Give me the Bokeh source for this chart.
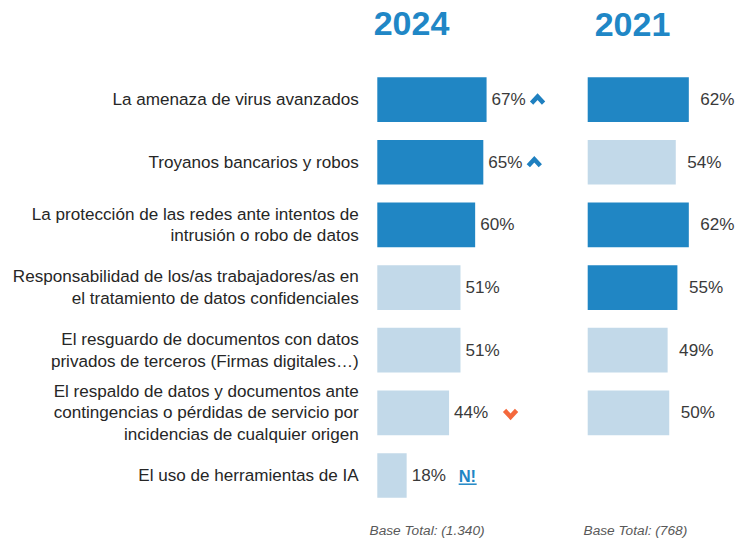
from bokeh.plotting import figure
from bokeh.models import Range1d, ColumnDataSource, Label
from bokeh.embed import file_html
from bokeh.resources import INLINE
from bokeh.core.properties import value

# ---------------- data ----------------
categories = [
    "La amenaza de virus avanzados",
    "Troyanos bancarios y robos",
    "La protección de las redes ante intentos de\nintrusión o robo de datos",
    "Responsabilidad de los/as trabajadores/as en\nel tratamiento de datos confidenciales",
    "El resguardo de documentos con datos\nprivados de terceros (Firmas digitales…)",
    "El respaldo de datos y documentos ante\ncontingencias o pérdidas de servicio por\nincidencias de cualquier origen",
    "El uso de herramientas de IA",
]
values_2024 = [67, 65, 60, 51, 51, 44, 18]
values_2021 = [62, 54, 62, 55, 49, 50, None]
change_2024 = ["up", "up", "", "", "", "down", "new"]
years = ["2024", "2021"]
base_totals = ["Base Total: (1.340)", "Base Total: (768)"]

# ---------------- layout / style ----------------
W, H = 736, 541
PX = 1.631          # pixels per percentage point
X0 = 376.8          # frame px of the 2024 zero line
GAP21 = 210.4       # px between the 2024 and 2021 zero lines
ROW = 62.65         # px per row
Y0 = 99.1           # frame px (from top) of first row centre
BAR_H = 44.7 / ROW
OFF = GAP21 / PX

DARK = "#2086C4"
LIGHT = "#C2D9E9"
TXT = "#262626"
VAL = "#3a3a3a"
FONT = "Liberation Sans"
FS = "17.1px"


def colors(vals):
    present = sorted([v for v in vals if v is not None], reverse=True)
    thr = present[2]
    return [DARK if (v is not None and v >= thr) else LIGHT for v in vals]


p = figure(width=W, height=H, output_backend="svg", toolbar_location=None,
           x_range=Range1d(-X0 / PX, (W - X0) / PX),
           y_range=Range1d((H - Y0) / ROW, -Y0 / ROW),
           x_axis_location=None, y_axis_location=None, min_border=0,
           outline_line_color=None)
p.grid.visible = False
p.background_fill_color = "white"
p.border_fill_color = "white"

idx = list(range(len(categories)))

# category labels
p.text(x=[0] * len(idx), y=idx, text=categories, x_offset=-18.6,
       text_align="right", text_baseline="middle",
       text_font=value(FONT), text_font_size=FS, text_color=TXT,
       text_line_height=1.14)

# 2024 bars
src24 = ColumnDataSource(dict(y=idx, right=values_2024,
                              color=colors(values_2024),
                              lab=[f"{v}%" for v in values_2024]))
p.hbar(y="y", left=0, right="right", height=BAR_H, fill_color="color",
       line_color=None, source=src24)
p.text(x="right", y="y", text="lab", x_offset=5, text_align="left",
       text_baseline="middle", text_font=value(FONT), text_font_size=FS,
       text_color=VAL, source=src24)

# 2021 bars
i21 = [i for i, v in enumerate(values_2021) if v is not None]
v21 = [values_2021[i] for i in i21]
c21 = colors(values_2021)
src21 = ColumnDataSource(dict(y=i21, left=[OFF] * len(i21),
                              right=[OFF + v for v in v21],
                              color=[c21[i] for i in i21],
                              lab=[f"{v}%" for v in v21]))
p.hbar(y="y", left="left", right="right", height=BAR_H, fill_color="color",
       line_color=None, source=src21)
p.text(x="right", y="y", text="lab", x_offset=11.5, text_align="left",
       text_baseline="middle", text_font=value(FONT), text_font_size=FS,
       text_color=VAL, source=src21)

# change markers
up_xs, up_ys, dn_xs, dn_ys = [], [], [], []
for i, (v, ch) in enumerate(zip(values_2024, change_2024)):
    if ch == "up":
        cx = v + 51 / PX
        up_xs.append([cx - 6 / PX, cx, cx + 6 / PX])
        up_ys.append([i + 3.5 / ROW, i - 3 / ROW, i + 3.5 / ROW])
    elif ch == "down":
        cx = v + 61.5 / PX
        cy = i + 1 / ROW
        dn_xs.append([cx - 6 / PX, cx, cx + 6 / PX])
        dn_ys.append([cy - 3.5 / ROW, cy + 3 / ROW, cy - 3.5 / ROW])
    elif ch == "new":
        p.text(x=[v], y=[i], text=["N!"], x_offset=52, text_align="left",
               text_baseline="middle", text_font=value(FONT),
               text_font_size="16.5px", text_font_style="bold",
               text_color="#1F86C5")
        p.segment(x0=[v + 52 / PX], x1=[v + 70 / PX], y0=[i + 8.7 / ROW],
                  y1=[i + 8.7 / ROW], line_color="#1F86C5", line_width=1.5)
p.multi_line(xs=up_xs, ys=up_ys, line_color="#1F80C0", line_width=4.5,
             line_join="miter")
p.multi_line(xs=dn_xs, ys=dn_ys, line_color="#F4683C", line_width=4.5,
             line_join="miter")

# year titles
for txt, sx, sy in zip(years, [411, 632], [H - 22.8, H - 24.3]):
    p.add_layout(Label(x=sx, y=sy, x_units="screen", y_units="screen",
                       text=txt, text_align="center", text_baseline="middle",
                       text_font=FONT, text_font_size="34px",
                       text_font_style="bold", text_color="#2087C6"))

# base notes
for txt, sx in zip(base_totals, [369, 583]):
    p.add_layout(Label(x=sx, y=10.7, x_units="screen", y_units="screen",
                       text=txt, text_align="left", text_baseline="middle",
                       text_font=FONT, text_font_size="13.7px",
                       text_font_style="italic", text_color="#595959"))

open("out.html", "w").write(file_html(p, INLINE))
